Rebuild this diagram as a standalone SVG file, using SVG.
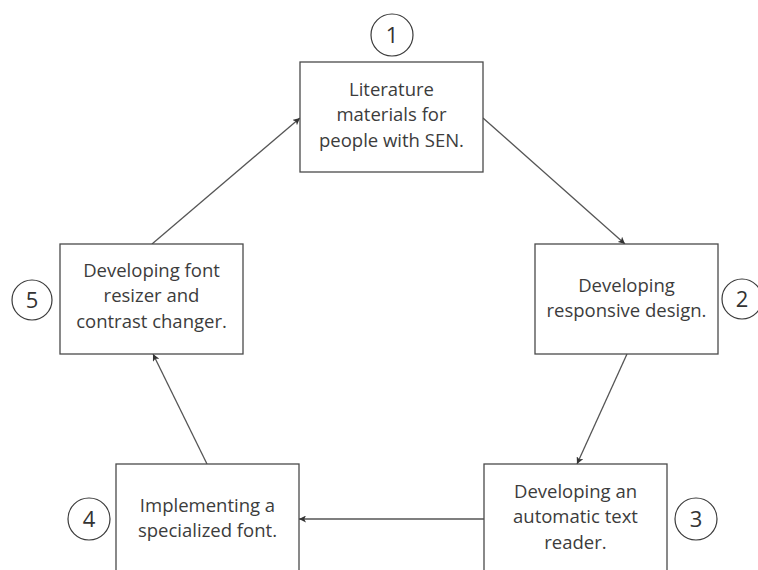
<svg xmlns="http://www.w3.org/2000/svg" width="758" height="570" viewBox="0 0 758 570">
  <style>
    .box { fill: #ffffff; stroke: #4a4a4a; stroke-width: 1.3; }
    .num { fill: #ffffff; stroke: #3a3a3a; stroke-width: 1.2; }
    .label { font-family: "Open Sans", "Noto Sans", sans-serif; font-size: 18.5px; fill: #3c3c3c; text-anchor: middle; }
    .numtxt { font-family: "Open Sans", "Noto Sans", sans-serif; font-size: 22px; fill: #333333; text-anchor: middle; }
    .link { stroke: #555555; stroke-width: 1.3; fill: none; marker-end: url(#arrow); }
  </style>
  <defs>
    <marker id="arrow" viewBox="0 0 10 10" refX="10" refY="5" markerWidth="7" markerHeight="7" markerUnits="userSpaceOnUse" orient="auto">
      <path d="M0,0 L10,5 L0,10 L2.5,5 Z" fill="#333333"/>
    </marker>
  </defs>
  <rect width="758" height="570" fill="#ffffff"/>

  <g id="connectors">
    <line class="link" x1="483" y1="118" x2="625" y2="244"/>
    <line class="link" x1="627" y1="354" x2="577" y2="464"/>
    <line class="link" x1="484" y1="519" x2="299" y2="519"/>
    <line class="link" x1="207" y1="464" x2="153" y2="354"/>
    <line class="link" x1="152" y1="244" x2="300" y2="118"/>
  </g>

  <g id="step1">
    <rect class="box" x="300" y="62" width="183" height="110"/>
    <text class="label" x="391.5" y="96">Literature</text>
    <text class="label" x="391.5" y="121">materials for</text>
    <text class="label" x="391.5" y="147">people with SEN.</text>
    <circle class="num" cx="392" cy="35" r="21"/>
    <text class="numtxt" x="392" y="43">1</text>
  </g>

  <g id="step2">
    <rect class="box" x="535" y="244" width="183" height="110"/>
    <text class="label" x="626.5" y="292">Developing</text>
    <text class="label" x="626.5" y="317">responsive design.</text>
    <circle class="num" cx="742" cy="299" r="20"/>
    <text class="numtxt" x="742" y="307">2</text>
  </g>

  <g id="step3">
    <rect class="box" x="484" y="464" width="183" height="110"/>
    <text class="label" x="575.5" y="498">Developing an</text>
    <text class="label" x="575.5" y="523">automatic text</text>
    <text class="label" x="575.5" y="549">reader.</text>
    <circle class="num" cx="696" cy="519" r="21"/>
    <text class="numtxt" x="696" y="527">3</text>
  </g>

  <g id="step4">
    <rect class="box" x="116" y="464" width="183" height="110"/>
    <text class="label" x="207.5" y="512">Implementing a</text>
    <text class="label" x="207.5" y="537">specialized font.</text>
    <circle class="num" cx="89" cy="519" r="21"/>
    <text class="numtxt" x="89" y="527">4</text>
  </g>

  <g id="step5">
    <rect class="box" x="60" y="244" width="183" height="110"/>
    <text class="label" x="151.5" y="277">Developing font</text>
    <text class="label" x="151.5" y="302">resizer and</text>
    <text class="label" x="151.5" y="328">contrast changer.</text>
    <circle class="num" cx="32" cy="300" r="20"/>
    <text class="numtxt" x="32" y="308">5</text>
  </g>
</svg>
